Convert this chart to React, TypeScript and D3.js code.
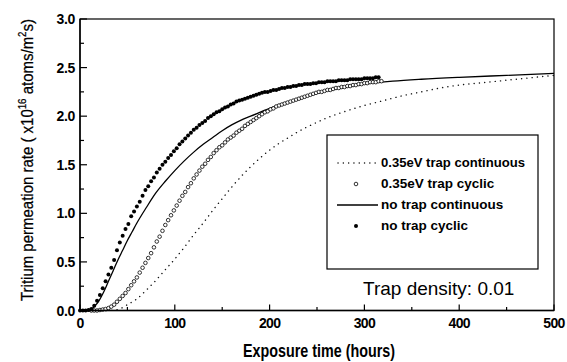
import React from 'react';
import * as d3 from 'd3';

// exposure time (hours), permeation rate (x10^16 atoms/m^2 s)
const noTrapCyclic: [number, number][] = [
  [0, 0], [3, 0], [6, 0], [9, 0.005], [12, 0.015], [15, 0.05], [18, 0.1], [21, 0.16], [24, 0.23], [27, 0.3],
  [30, 0.37], [33, 0.44], [36, 0.52], [39, 0.62], [42, 0.7], [45, 0.77], [48, 0.84], [51, 0.89], [54, 0.97], [57, 1.02],
  [60, 1.07], [63, 1.12], [66, 1.18], [69, 1.24], [72, 1.28], [75, 1.33], [78, 1.37], [81, 1.42], [84, 1.46], [87, 1.5],
  [90, 1.53], [93, 1.57], [96, 1.6], [99, 1.64], [102, 1.67], [105, 1.71], [108, 1.74], [111, 1.77], [114, 1.8], [117, 1.83],
  [120, 1.86], [123, 1.88], [126, 1.91], [129, 1.93], [132, 1.95], [135, 1.98], [138, 2.0], [141, 2.02], [144, 2.04], [147, 2.05],
  [150, 2.07], [153, 2.09], [156, 2.1], [159, 2.12], [162, 2.13], [165, 2.15], [168, 2.16], [171, 2.17], [174, 2.18], [177, 2.19],
  [180, 2.2], [183, 2.21], [186, 2.22], [189, 2.23], [192, 2.24], [195, 2.25], [198, 2.25], [201, 2.26], [204, 2.27], [207, 2.27],
  [210, 2.28], [213, 2.29], [216, 2.29], [219, 2.3], [222, 2.3], [225, 2.31], [228, 2.31], [231, 2.32], [234, 2.32], [237, 2.33],
  [240, 2.33], [243, 2.33], [246, 2.34], [249, 2.34], [252, 2.35], [255, 2.35], [258, 2.35], [261, 2.36], [264, 2.36], [267, 2.36],
  [270, 2.36], [273, 2.37], [276, 2.37], [279, 2.37], [282, 2.37], [285, 2.38], [288, 2.38], [291, 2.38], [294, 2.38], [297, 2.38],
  [300, 2.39], [303, 2.39], [306, 2.39], [309, 2.39], [312, 2.4], [315, 2.4],
];

const trapCyclic: [number, number][] = [
  [12, 0], [15, 0], [18, 0], [21, 0.005], [24, 0.01], [27, 0.015], [30, 0.025], [33, 0.04], [36, 0.06], [39, 0.09],
  [42, 0.12], [45, 0.15], [48, 0.18], [51, 0.22], [54, 0.26], [57, 0.3], [60, 0.34], [63, 0.39], [66, 0.44], [69, 0.49],
  [72, 0.54], [75, 0.59], [78, 0.65], [81, 0.71], [84, 0.76], [87, 0.82], [90, 0.88], [93, 0.93], [96, 0.98], [99, 1.03],
  [102, 1.08], [105, 1.13], [108, 1.18], [111, 1.22], [114, 1.27], [117, 1.31], [120, 1.36], [123, 1.4], [126, 1.44], [129, 1.48],
  [132, 1.51], [135, 1.55], [138, 1.58], [141, 1.62], [144, 1.65], [147, 1.68], [150, 1.7], [153, 1.73], [156, 1.76], [159, 1.78],
  [162, 1.8], [165, 1.83], [168, 1.85], [171, 1.87], [174, 1.9], [177, 1.92], [180, 1.94], [183, 1.96], [186, 1.98], [189, 2.0],
  [192, 2.02], [195, 2.04], [198, 2.05], [201, 2.07], [204, 2.08], [207, 2.1], [210, 2.11], [213, 2.12], [216, 2.13], [219, 2.14],
  [222, 2.15], [225, 2.16], [228, 2.17], [231, 2.18], [234, 2.19], [237, 2.2], [240, 2.21], [243, 2.22], [246, 2.23], [249, 2.24],
  [252, 2.25], [255, 2.25], [258, 2.26], [261, 2.27], [264, 2.27], [267, 2.28], [270, 2.29], [273, 2.29], [276, 2.3], [279, 2.3],
  [282, 2.31], [285, 2.31], [288, 2.32], [291, 2.32], [294, 2.33], [297, 2.33], [300, 2.34], [303, 2.34], [306, 2.35], [309, 2.35],
  [312, 2.35], [315, 2.36], [318, 2.36],
];

const noTrapContinuous: [number, number][] = [
  [0, 0], [10, 0], [15, 0.04], [20, 0.1], [25, 0.19], [30, 0.3], [35, 0.41], [40, 0.52], [45, 0.62], [50, 0.72],
  [55, 0.81], [60, 0.9], [70, 1.06], [80, 1.21], [90, 1.33], [100, 1.44], [110, 1.54], [120, 1.63], [130, 1.71], [140, 1.78],
  [150, 1.85], [160, 1.91], [170, 1.96], [180, 2.0], [200, 2.08], [220, 2.15], [240, 2.21], [260, 2.26], [280, 2.3], [300, 2.33],
  [330, 2.36], [360, 2.38], [400, 2.4], [450, 2.42], [500, 2.44],
];

const trapContinuous: [number, number][] = [
  [0, 0], [30, 0], [40, 0.01], [50, 0.06], [60, 0.12], [70, 0.21], [80, 0.31], [90, 0.42], [100, 0.53], [110, 0.65],
  [120, 0.78], [130, 0.9], [140, 1.03], [150, 1.15], [160, 1.27], [170, 1.38], [180, 1.48], [190, 1.57], [200, 1.65], [210, 1.72],
  [220, 1.78], [230, 1.84], [240, 1.89], [260, 1.98], [280, 2.05], [300, 2.11], [320, 2.16], [340, 2.21], [360, 2.25], [380, 2.29],
  [400, 2.32], [420, 2.34], [440, 2.36], [460, 2.38], [480, 2.4], [500, 2.42],
];

const xMajor = [0, 100, 200, 300, 400, 500];
const xMinor = [50, 150, 250, 350, 450];
const yMajor = [0, 0.5, 1.0, 1.5, 2.0, 2.5, 3.0];
const yMinor = [0.25, 0.75, 1.25, 1.75, 2.25, 2.75];

const legendLabels = ['0.35eV trap continuous', '0.35eV trap cyclic', 'no trap continuous', 'no trap cyclic'];

const W = 567;
const H = 362;
const margin = { left: 80, right: 13, top: 19, bottom: 51.5 };

export default function App() {
  const x = d3.scaleLinear().domain([0, 500]).range([margin.left, W - margin.right]);
  const y = d3.scaleLinear().domain([0, 3]).range([H - margin.bottom, margin.top]);

  const line = d3
    .line<[number, number]>()
    .x((d) => x(d[0]))
    .y((d) => y(d[1]))
    .curve(d3.curveMonotoneX);

  const font = "'Liberation Sans', Arial, sans-serif";
  const x0 = x(0);
  const x1 = x(500);
  const y0 = y(0);
  const y1 = y(3);

  const lg = { x: 327, y: 135, w: 211, h: 134 };
  const rowY = (i: number) => lg.y + 32 + i * 21;

  return (
    <svg
      width={W}
      height={H}
      style={{ position: 'absolute', left: 0, top: 0, background: '#fff' }}
      fontFamily={font}
    >
      <rect x={0} y={0} width={W} height={H} fill="#fff" />

      {/* series */}
      <path d={line(trapContinuous) || ''} fill="none" stroke="#111" strokeWidth={1.4}
        strokeDasharray="0.1 5.2" strokeLinecap="round" />
      <path d={line(noTrapContinuous) || ''} fill="none" stroke="#000" strokeWidth={1.3} />
      {trapCyclic.map((d, i) => (
        <circle key={'c' + i} cx={x(d[0])} cy={y(d[1])} r={1.8} fill="#fff" stroke="#000" strokeWidth={0.8} />
      ))}
      {noTrapCyclic.map((d, i) => (
        <circle key={'f' + i} cx={x(d[0])} cy={y(d[1])} r={2} fill="#000" />
      ))}

      {/* frame */}
      <rect x={x0} y={y1} width={x1 - x0} height={y0 - y1} fill="none" stroke="#000" strokeWidth={1.2} />
      <line x1={x0} x2={x1} y1={y0} y2={y0} stroke="#000" strokeWidth={1.6} />
      <line x1={x0} x2={x0} y1={y0} y2={y1} stroke="#000" strokeWidth={1.4} />

      {/* x ticks */}
      {xMajor.map((t) => (
        <g key={'xm' + t}>
          <line x1={x(t)} x2={x(t)} y1={y0} y2={y0 - 6} stroke="#000" strokeWidth={1.2} />
          <text x={x(t)} y={y0 + 17} textAnchor="middle" fontSize={14} fontWeight="bold" letterSpacing={-0.7}>
            {t}
          </text>
        </g>
      ))}
      {xMinor.map((t) => (
        <line key={'xn' + t} x1={x(t)} x2={x(t)} y1={y0} y2={y0 - 3.5} stroke="#000" strokeWidth={1.2} />
      ))}

      {/* y ticks */}
      {yMajor.map((t) => (
        <g key={'ym' + t}>
          <line x1={x0} x2={x0 + 7} y1={y(t)} y2={y(t)} stroke="#000" strokeWidth={1.2} />
          <text x={x0 - 5} y={y(t)} dy="0.36em" textAnchor="end" fontSize={14} fontWeight="bold" letterSpacing={-0.3}>
            {t.toFixed(1)}
          </text>
        </g>
      ))}
      {yMinor.map((t) => (
        <line key={'yn' + t} x1={x0} x2={x0 + 4} y1={y(t)} y2={y(t)} stroke="#000" strokeWidth={1.2} />
      ))}

      {/* axis titles */}
      <text x={319} y={357} textAnchor="middle" fontSize={18} fontWeight="bold" textLength={152}
        lengthAdjust="spacingAndGlyphs">
        Exposure time (hours)
      </text>
      <text transform="translate(33,160) rotate(-90)" textAnchor="middle" fontSize={17}
        textLength={282} lengthAdjust="spacingAndGlyphs" stroke="#000" strokeWidth={0.25}>
        Tritium permeation rate ( x10<tspan dy={-7} fontSize={11}>16</tspan>
        <tspan dy={7}> atoms/m</tspan><tspan dy={-7} fontSize={11}>2</tspan><tspan dy={7}>s)</tspan>
      </text>

      {/* legend */}
      <rect x={lg.x} y={lg.y} width={lg.w} height={lg.h} fill="#fff" stroke="#000" strokeWidth={1.2} />
      <line x1={338} x2={378} y1={rowY(0) - 4} y2={rowY(0) - 4} stroke="#111" strokeWidth={1.4}
        strokeDasharray="0.1 5.2" strokeLinecap="round" />
      <circle cx={356} cy={rowY(1) - 4} r={1.8} fill="#fff" stroke="#000" strokeWidth={0.8} />
      <line x1={337} x2={378} y1={rowY(2) - 4} y2={rowY(2) - 4} stroke="#000" strokeWidth={1.3} />
      <circle cx={356} cy={rowY(3) - 4} r={2} fill="#000" />
      {legendLabels.map((l, i) => (
        <text key={l} x={381} y={rowY(i)} fontSize={13.5} fontWeight="bold" textLength={i === 0 ? 144 : undefined}
          lengthAdjust="spacingAndGlyphs">
          {l}
        </text>
      ))}

      <text x={363} y={295} fontSize={19}>
        Trap density: 0.01
      </text>
    </svg>
  );
}
